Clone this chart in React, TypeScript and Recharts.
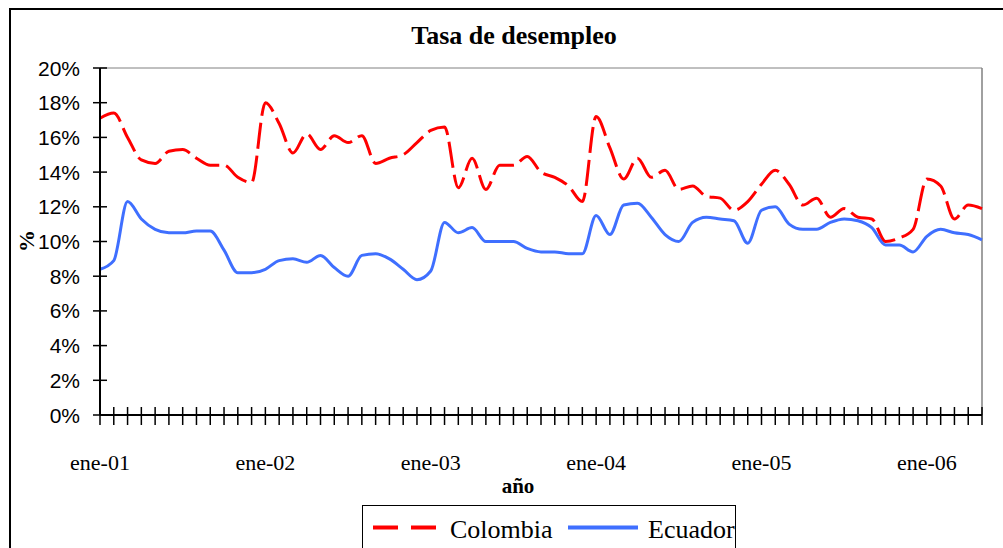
import React from 'react';
import { LineChart, Line, XAxis, YAxis, Legend, ReferenceLine } from 'recharts';

// meses y años del eje de categorías
const monthNames = ['ene', 'feb', 'mar', 'abr', 'may', 'jun', 'jul', 'ago', 'sep', 'oct', 'nov', 'dic'];
const years = ['01', '02', '03', '04', '05', '06'];

// tasa de desempleo mensual (%), ene-01 a may-06
const colombia = [
  17.1, 17.4, 16.0, 14.7, 14.5, 15.2, 15.3, 14.8, 14.4, 14.4, 13.7, 13.4,
  18.0, 16.8, 15.1, 16.2, 15.3, 16.1, 15.7, 16.1, 14.5, 14.8, 15.0, 15.7,
  16.4, 16.6, 13.1, 14.8, 13.0, 14.4, 14.4, 14.9, 14.0, 13.7, 13.2, 12.3,
  17.2, 15.4, 13.6, 14.8, 13.7, 14.1, 13.0, 13.2, 12.6, 12.5, 11.8, 12.3,
  13.3, 14.1, 13.3, 12.1, 12.5, 11.4, 11.9, 11.4, 11.3, 10.0, 10.2, 10.7,
  13.6, 13.2, 11.3, 12.1, 11.9,
];
const ecuador = [
  8.4, 8.9, 12.3, 11.3, 10.7, 10.5, 10.5, 10.6, 10.6, 9.5, 8.2, 8.2,
  8.4, 8.9, 9.0, 8.8, 9.2, 8.5, 8.0, 9.2, 9.3, 9.0, 8.4, 7.8,
  8.3, 11.1, 10.5, 10.8, 10.0, 10.0, 10.0, 9.6, 9.4, 9.4, 9.3, 9.3,
  11.5, 10.4, 12.1, 12.2, 11.4, 10.4, 10.0, 11.1, 11.4, 11.3, 11.2, 9.9,
  11.8, 12.0, 11.0, 10.7, 10.7, 11.1, 11.3, 11.2, 10.8, 9.8, 9.8, 9.4,
  10.3, 10.7, 10.5, 10.4, 10.1,
];
const yTicks = [0, 2, 4, 6, 8, 10, 12, 14, 16, 18, 20];

const data = colombia.map((c, i) => ({
  mes: `${monthNames[i % 12]}-${years[Math.floor(i / 12)]}`,
  Colombia: c,
  Ecuador: ecuador[i],
}));

const SERIF = '"Liberation Serif", "Times New Roman", serif';
const SANS = '"Liberation Sans", Arial, sans-serif';

const RED = '#FF0000';
const BLUE = '#3F6FFF';

// marca del eje X: línea que cruza el eje y etiqueta solo en enero
const XTick = (props: any) => {
  const { x, y, payload } = props;
  const axisY = y - 10;
  const label: string = payload.value;
  return (
    <g>
      <line x1={x} x2={x} y1={axisY - 8} y2={axisY + 10} stroke="#000" strokeWidth={1.5} />
      {label.startsWith('ene') && (
        <text x={x} y={axisY + 55} textAnchor="middle" fontFamily={SERIF} fontSize={22} fill="#000">
          {label}
        </text>
      )}
    </g>
  );
};

const YTick = (props: any) => {
  const { x, y, payload } = props;
  const axisX = x + 20;
  return (
    <g>
      <line x1={axisX - 7} x2={axisX + 7} y1={y} y2={y} stroke="#000" strokeWidth={1.5} />
      <text x={x} y={y + 7.5} textAnchor="end" fontFamily={SANS} fontSize={21} fill="#000">
        {`${payload.value}%`}
      </text>
    </g>
  );
};

const renderLegend = (props: any) => {
  const { payload } = props;
  const offsets = [0, 195];
  return (
    <div style={{ width: 374, height: 60, border: '1.5px solid #000', background: '#fff', boxSizing: 'border-box' }}>
      <svg width={372} height={58} style={{ display: 'block' }}>
        {payload.map((entry: any, i: number) => (
          <g key={entry.value} transform={`translate(${offsets[i]},0)`}>
            <line
              x1={10}
              x2={i === 0 ? 73 : 80}
              y1={21.5}
              y2={21.5}
              stroke={entry.color}
              strokeWidth={4}
              strokeDasharray={i === 0 ? '25 13' : undefined}
            />
            <text x={i === 0 ? 87 : 90} y={32} fontFamily={SERIF} fontSize={26} fill="#000">
              {entry.value}
            </text>
          </g>
        ))}
      </svg>
    </div>
  );
};

export default function App() {
  return (
    <div style={{ position: 'absolute', left: 0, top: 0, width: 1003, height: 548, overflow: 'hidden', background: '#fff' }}>
      {/* marco exterior */}
      <div style={{ position: 'absolute', left: 9, top: 8, width: 1100, height: 700, border: '2px solid #000' }} />
      <div
        style={{
          position: 'absolute', left: 0, top: 23, width: 1028, textAlign: 'center',
          fontFamily: SERIF, fontWeight: 'bold', fontSize: 26, lineHeight: '26px', color: '#000',
        }}
      >
        Tasa de desempleo
      </div>
      <div style={{ position: 'absolute', left: 0, top: 0 }}>
        <LineChart width={1003} height={548} data={data} margin={{ top: 68, right: 21, bottom: 73, left: 10 }}>
          <ReferenceLine y={20} stroke="#808080" strokeWidth={1} />
          <ReferenceLine x="may-06" stroke="#808080" strokeWidth={1.5} />
          <XAxis
            dataKey="mes"
            interval={0}
            height={60}
            tickSize={10}
            tickMargin={0}
            tickLine={false}
            axisLine={{ stroke: '#000', strokeWidth: 2 }}
            tick={<XTick />}
            label={(p: any) => (
              <text x={518} y={493} textAnchor="middle" fontFamily={SERIF} fontWeight="bold" fontSize={21} fill="#000">
                año
              </text>
            )}
          />
          <YAxis
            type="number"
            domain={[0, 20]}
            ticks={yTicks}
            width={90}
            tickSize={7}
            tickMargin={13}
            tickLine={false}
            axisLine={{ stroke: '#000', strokeWidth: 2 }}
            tick={<YTick />}
            label={(p: any) => (
              <text
                x={34}
                y={241}
                transform="rotate(-90 34 241)"
                textAnchor="middle"
                fontFamily={SERIF}
                fontWeight="bold"
                fontSize={22}
                fill="#000"
              >
                %
              </text>
            )}
          />
          <Legend
            layout="vertical"
            align="center"
            verticalAlign="middle"
            wrapperStyle={{ left: 362, top: 505, width: 374 }}
            content={renderLegend}
          />
          <Line
            type="monotone"
            dataKey="Colombia"
            stroke={RED}
            strokeWidth={3}
            strokeDasharray="26 7"
            dot={false}
            isAnimationActive={false}
          />
          <Line
            type="monotone"
            dataKey="Ecuador"
            stroke={BLUE}
            strokeWidth={3}
            dot={false}
            isAnimationActive={false}
          />
        </LineChart>
      </div>
    </div>
  );
}
